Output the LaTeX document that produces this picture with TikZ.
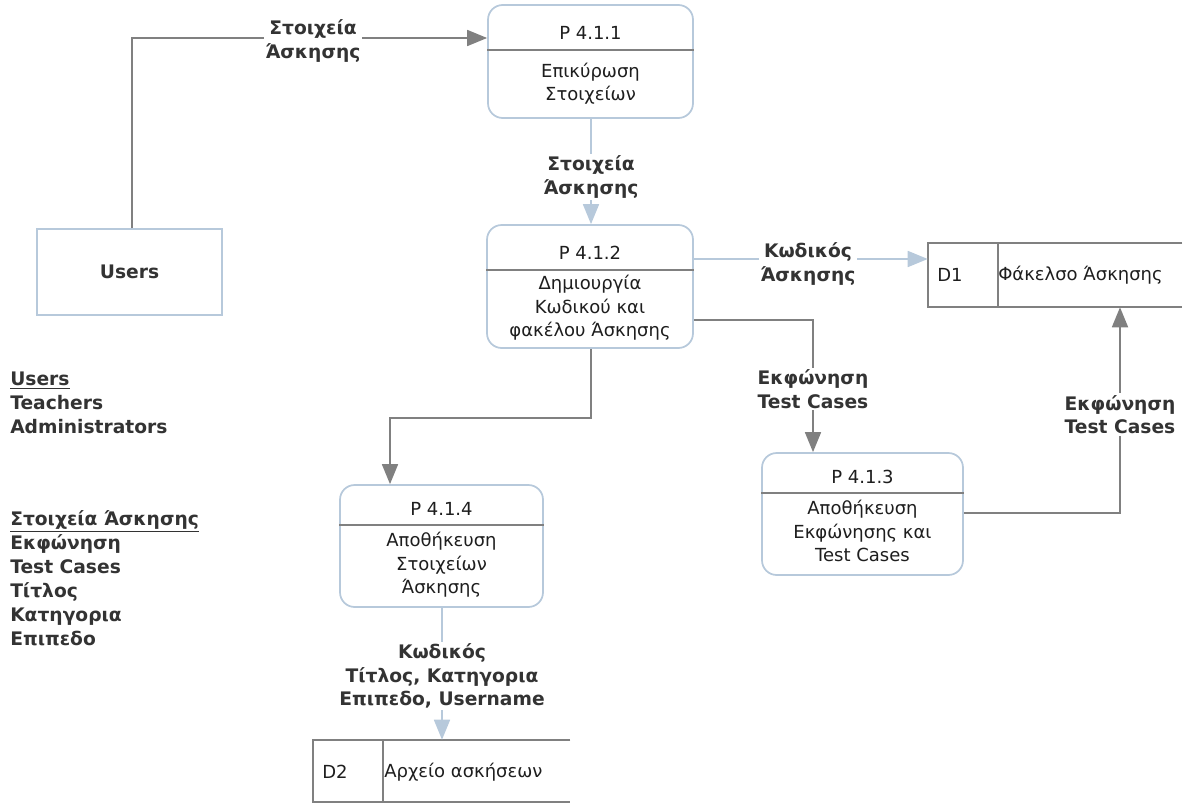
\documentclass[tikz,border=0pt]{standalone}
\usepackage{fontspec}
\setmainfont{DejaVu Sans}
\usetikzlibrary{arrows.meta}
\definecolor{procblue}{HTML}{B7C9DB}
\definecolor{lgray}{HTML}{808080}
\definecolor{txt}{HTML}{333333}
\definecolor{btxt}{HTML}{1E1E1E}
\tikzset{
  proc/.style={draw=procblue, line width=1.3pt, rounded corners=11pt, fill=white, inner sep=0pt},
  ext/.style={draw=procblue, line width=1.3pt, fill=white, inner sep=0pt},
  divline/.style={draw=lgray, line width=0.8pt},
  storeline/.style={draw=lgray, line width=1.3pt},
  ptext/.style={text=btxt, font=\fontsize{13.5pt}{17.5pt}\selectfont, align=center, inner sep=0pt},
  lbl/.style={text=txt, font=\fontsize{14pt}{17.5pt}\selectfont\bfseries, align=center, fill=white, inner sep=1.5pt},
  legend/.style={text=txt, font=\fontsize{14pt}{18pt}\selectfont\bfseries, align=left, inner sep=0pt},
  garrow/.style={draw=lgray, line width=1.3pt, -{Triangle[length=15pt,width=12pt]}},
  barrow/.style={draw=procblue, line width=1.3pt, -{Triangle[length=15pt,width=12pt]}},
}
\begin{document}
\begin{tikzpicture}[x=0.75pt, y=-0.75pt]
\useasboundingbox (0,0) rectangle (1192,803);

% processes
\node[proc, minimum width=153.75pt, minimum height=84.75pt] (p1) at (590.5,61.5) {};
\node[proc, minimum width=154.5pt, minimum height=92.25pt] (p2) at (590,286.5) {};
\node[proc, minimum width=152.25pt, minimum height=91.5pt] (p4) at (441.5,546) {};
\node[proc, minimum width=150.75pt, minimum height=91.5pt] (p3) at (862.5,514) {};

\draw[divline] (p1.west |- 0,50) -- (p1.east |- 0,50);
\draw[divline] (p2.west |- 0,270) -- (p2.east |- 0,270);
\draw[divline] (p4.west |- 0,525) -- (p4.east |- 0,525);
\draw[divline] (p3.west |- 0,493) -- (p3.east |- 0,493);

\node[ptext] (p1h) at (590.5,33) {P 4.1.1};
\node[ptext] (p1b) at (590.5,83.5) {Επικύρωση\\Στοιχείων};
\node[ptext] (p2h) at (590,253) {P 4.1.2};
\node[ptext] (p2b) at (590,308) {Δημιουργία\\Κωδικού και\\φακέλου Άσκησης};
\node[ptext] (p4h) at (441.5,509) {P 4.1.4};
\node[ptext] (p4b) at (441.5,565) {Αποθήκευση\\Στοιχείων\\Άσκησης};
\node[ptext] (p3h) at (862.5,477) {P 4.1.3};
\node[ptext] (p3b) at (862.5,531) {Αποθήκευση\\Εκφώνησης και\\Test Cases};

% external entity
\node[ext, minimum width=138.75pt, minimum height=64.5pt, text=txt, font=\fontsize{14pt}{17pt}\selectfont\bfseries] (users) at (129.5,272) {Users};

% data stores
\node[minimum width=190.5pt, minimum height=48pt, inner sep=0pt] (d1) at (1055,275) {};
\draw[storeline] (d1.north east) -- (d1.north west) -- (d1.south west) -- (d1.south east);
\draw[storeline] (d1.north -| 998,0) -- (d1.south -| 998,0);
\node[ptext, anchor=west] (d1id) at (937,275) {D1};
\node[ptext, anchor=west] (d1n) at (998,275) {Φάκελσο Άσκησης};

\node[minimum width=192.75pt, minimum height=46.5pt, inner sep=0pt] (d2) at (441.5,771) {};
\draw[storeline] (d2.north east) -- (d2.north west) -- (d2.south west) -- (d2.south east);
\draw[storeline] (d2.north -| 383,0) -- (d2.south -| 383,0);
\node[ptext, anchor=west] (d2id) at (322,772) {D2};
\node[ptext, anchor=west] (d2n) at (384,772) {Αρχείο ασκήσεων};

% connectors
\draw[garrow] ([xshift=1.9pt]users.north) |- (p1.west |- 0,38);
\node[lbl] (l1) at (313,41) {Στοιχεία\\Άσκησης};

\draw[barrow] (p1.south -| 591,0) -- (p2.north -| 591,0);
\node[lbl] (l2) at (591,177) {Στοιχεία\\Άσκησης};

\draw[barrow] (p2.east |- 0,259) -- (d1.west |- 0,259);
\node[lbl] (l3) at (808,264) {Κωδικός\\Άσκησης};

\draw[garrow] (p2.east |- 0,320) -| (p3.north -| 813,0);
\node[lbl] (l4) at (813,389) {Εκφώνηση\\Test Cases};

\draw[garrow] (p3.east |- 0,513) -| (d1.south -| 1120,0);
\node[lbl] (l5) at (1120,414.5) {Εκφώνηση\\Test Cases};

\draw[garrow] (p2.south -| 591,0) -- (591,418) -| (p4.north -| 390,0);

\draw[barrow] (p4.south -| 442,0) -- (d2.north -| 442,0);
\node[lbl] (l6) at (442,676) {Κωδικός\\Τίτλος, Κατηγορια\\Επιπεδο, Username};

% legend
\node[legend, anchor=west] (leg1) at (10,403) {\underline{Users}\\Teachers\\Administrators};
\node[legend, anchor=west] (leg2) at (10,578) {\underline{Στοιχεία Άσκησης}\\Εκφώνηση\\Test Cases\\Τίτλος\\Κατηγορια\\Επιπεδο};
\end{tikzpicture}
\end{document}
